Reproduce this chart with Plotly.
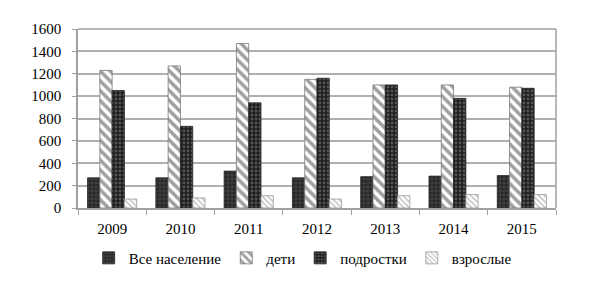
import plotly.graph_objects as go

years = ["2009", "2010", "2011", "2012", "2013", "2014", "2015"]
vse = [270, 270, 330, 270, 280, 285, 290]
deti = [1230, 1270, 1470, 1150, 1100, 1100, 1080]
podrostki = [1050, 730, 940, 1160, 1100, 980, 1070]
vzroslye = [80, 90, 110, 80, 110, 120, 120]

names = ["Все население", "дети", "подростки", "взрослые"]
series = [vse, deti, podrostki, vzroslye]
patterns = [
    dict(shape="+", fgcolor="#707070", bgcolor="#262626", size=4, solidity=0.35),
    dict(shape="\\", fgcolor="#404040", bgcolor="#ffffff", size=7, solidity=0.5),
    dict(shape=".", fgcolor="#8a8a8a", bgcolor="#1e1e1e", size=4, solidity=0.4),
    dict(shape="\\", fgcolor="#6a6a6a", bgcolor="#ffffff", size=4, solidity=0.3),
]
lines = ["#222222", "#777777", "#222222", "#999999"]

fig = go.Figure()
for n, v, p, lc in zip(names, series, patterns, lines):
    fig.add_trace(go.Bar(
        x=years, y=v, name=n,
        marker=dict(color=p["bgcolor"], pattern=p, line=dict(color=lc, width=0.8)),
    ))

FONT = "Liberation Serif, Times New Roman, serif"
fig.update_layout(
    width=602, height=284,
    margin=dict(l=78, r=46, t=29, b=76, autoexpand=False),
    paper_bgcolor="white", plot_bgcolor="white",
    barmode="group", bargap=0.28, bargroupgap=0.0,
    font=dict(family=FONT, size=15, color="black"),
    showlegend=True,
    legend=dict(orientation="h", x=0.47, xanchor="center", y=-0.28, yanchor="middle",
                font=dict(family=FONT, size=15), itemwidth=30, traceorder="normal",
                tracegroupgap=0),
    xaxis=dict(showline=True, linecolor="#a0a0a0", linewidth=1.5, ticks="outside",
               tickcolor="#a0a0a0", ticklen=5, showgrid=False, tickson="boundaries",
               tickfont=dict(family=FONT, size=15), ticklabelstandoff=6),
    yaxis=dict(range=[0, 1600], dtick=200, showline=True, linecolor="#a0a0a0",
               linewidth=1.5, gridcolor="#b0b0b0", gridwidth=1.5,
               ticks="outside", tickcolor="#a0a0a0", ticklen=4,
               tickfont=dict(family=FONT, size=15), ticklabelstandoff=8, zeroline=False),
)
fig.add_shape(type="line", xref="paper", yref="paper", x0=1, x1=1, y0=0, y1=1,
              line=dict(color="#a0a0a0", width=1.5))
fig.add_shape(type="line", xref="paper", yref="paper", x0=0, x1=1, y0=1, y1=1,
              line=dict(color="#a0a0a0", width=1.5))

fig.write_html("out.html")
